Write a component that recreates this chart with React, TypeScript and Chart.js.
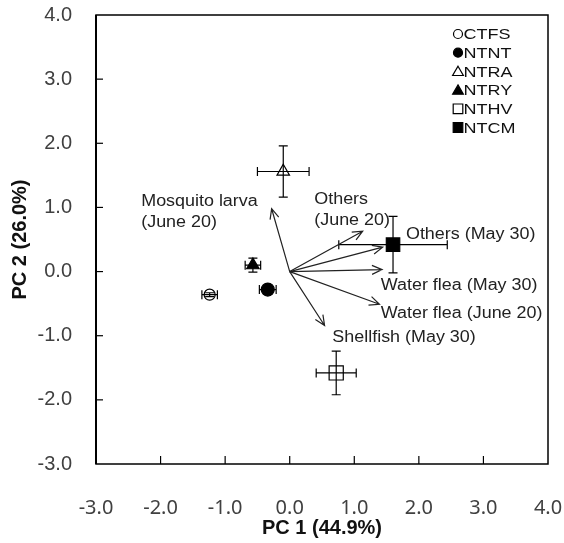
import React, { useEffect, useRef } from "react";
import { Chart, registerables } from "chart.js";

Chart.register(...registerables);

// ---- Data ----
const groups = ["CTFS", "NTNT", "NTRA", "NTRY", "NTHV", "NTCM"];
const pc1 = [-1.24, -0.34, -0.1, -0.57, 0.72, 1.6];
const pc2 = [-0.36, -0.28, 1.56, 0.1, -1.58, 0.42];
const pc1Err = [0.12, 0.13, 0.4, 0.12, 0.31, 0.84];
const pc2Err = [0.03, 0.05, 0.4, 0.11, 0.34, 0.44];
const markerStyle = ["circle", "circle", "triangle", "triangle", "rect", "rect"];
const markerFilled = [false, true, false, true, false, true];

const loadingNames = [
  ["Mosquito larva", "(June 20)"],
  ["Others", "(June 20)"],
  ["Others (May 30)"],
  ["Water flea (May 30)"],
  ["Water flea (June 20)"],
  ["Shellfish (May 30)"],
];
const loadingX = [-0.28, 1.13, 1.44, 1.43, 1.39, 0.54];
const loadingY = [0.98, 0.63, 0.38, 0.03, -0.51, -0.84];
const labelAnchorX = [-2.3, 0.38, 1.8, 1.41, 1.41, 0.66];
const labelAnchorY = [1.09, 1.12, 0.58, -0.22, -0.66, -1.03];

const axisMin = -3;
const axisMax = 4;
const xTitle = "PC 1 (44.9%)";
const yTitle = "PC 2 (26.0%)";

const SANS = "'Liberation Sans', Arial, sans-serif";

function stretchText(ctx: CanvasRenderingContext2D, text: string, x: number, y: number, sx: number) {
  ctx.save();
  ctx.translate(x, y);
  ctx.scale(sx, 1);
  ctx.fillText(text, 0, 0);
  ctx.restore();
}

function drawMarker(ctx: CanvasRenderingContext2D, style: string, filled: boolean, x: number, y: number, size: number) {
  ctx.save();
  ctx.beginPath();
  if (style === "circle") {
    ctx.arc(x, y, size, 0, Math.PI * 2);
  } else if (style === "triangle") {
    ctx.moveTo(x, y - size);
    ctx.lineTo(x + size * 0.866, y + size * 0.5);
    ctx.lineTo(x - size * 0.866, y + size * 0.5);
    ctx.closePath();
  } else {
    ctx.rect(x - size, y - size, size * 2, size * 2);
  }
  ctx.fillStyle = filled ? "#000" : "#fff";
  ctx.fill();
  ctx.lineWidth = 1.2;
  ctx.strokeStyle = "#000";
  ctx.stroke();
  ctx.restore();
}

const framePlugin = {
  id: "frameTicks",
  beforeDatasetsDraw(chart: any) {
    const { ctx, chartArea: a, scales } = chart;
    ctx.save();
    ctx.strokeStyle = "#000";
    ctx.lineWidth = 1.2;
    for (let v = axisMin + 1; v < axisMax; v++) {
      const px = scales.x.getPixelForValue(v);
      ctx.beginPath();
      ctx.moveTo(px, a.bottom);
      ctx.lineTo(px, a.bottom - 8);
      ctx.stroke();
      const py = scales.y.getPixelForValue(v);
      ctx.beginPath();
      ctx.moveTo(a.left, py);
      ctx.lineTo(a.left + 7, py);
      ctx.stroke();
    }
    ctx.lineWidth = 1.5;
    ctx.strokeRect(a.left, a.top, a.right - a.left, a.bottom - a.top);
    ctx.beginPath();
    ctx.lineWidth = 2;
    ctx.moveTo(a.left, a.top);
    ctx.lineTo(a.left, a.bottom);
    ctx.stroke();
    ctx.restore();
  },
};

const overlayPlugin = {
  id: "overlay",
  afterDatasetsDraw(chart: any) {
    const { ctx, chartArea: a, scales } = chart;
    const xs = scales.x;
    const ys = scales.y;
    ctx.save();
    // error bars
    ctx.strokeStyle = "#000";
    ctx.lineWidth = 1.2;
    const cap = 4.5;
    for (let i = 0; i < groups.length; i++) {
      const cx = xs.getPixelForValue(pc1[i]);
      const cy = ys.getPixelForValue(pc2[i]);
      const x0 = xs.getPixelForValue(pc1[i] - pc1Err[i]);
      const x1 = xs.getPixelForValue(pc1[i] + pc1Err[i]);
      const y0 = ys.getPixelForValue(pc2[i] - pc2Err[i]);
      const y1 = ys.getPixelForValue(pc2[i] + pc2Err[i]);
      ctx.beginPath();
      ctx.moveTo(x0, cy); ctx.lineTo(x1, cy);
      ctx.moveTo(x0, cy - cap); ctx.lineTo(x0, cy + cap);
      ctx.moveTo(x1, cy - cap); ctx.lineTo(x1, cy + cap);
      ctx.moveTo(cx, y0); ctx.lineTo(cx, y1);
      ctx.moveTo(cx - cap, y0); ctx.lineTo(cx + cap, y0);
      ctx.moveTo(cx - cap, y1); ctx.lineTo(cx + cap, y1);
      ctx.stroke();
    }
    // arrows
    const ox = xs.getPixelForValue(0);
    const oy = ys.getPixelForValue(0);
    ctx.strokeStyle = "#222";
    ctx.lineWidth = 1.2;
    for (let i = 0; i < loadingNames.length; i++) {
      const tx = xs.getPixelForValue(loadingX[i]);
      const ty = ys.getPixelForValue(loadingY[i]);
      const ang = Math.atan2(ty - oy, tx - ox);
      const hl = 11;
      const ha = 0.42;
      ctx.beginPath();
      ctx.moveTo(ox, oy);
      ctx.lineTo(tx, ty);
      ctx.moveTo(tx - hl * Math.cos(ang - ha), ty - hl * Math.sin(ang - ha));
      ctx.lineTo(tx, ty);
      ctx.lineTo(tx - hl * Math.cos(ang + ha), ty - hl * Math.sin(ang + ha));
      ctx.stroke();
    }
    // labels
    ctx.fillStyle = "#222";
    ctx.font = `16px ${SANS}`;
    ctx.textAlign = "left";
    ctx.textBaseline = "middle";
    for (let i = 0; i < loadingNames.length; i++) {
      const lx = xs.getPixelForValue(labelAnchorX[i]);
      const ly = ys.getPixelForValue(labelAnchorY[i]);
      loadingNames[i].forEach((line, k) => stretchText(ctx, line, lx, ly + k * 20.5, 1.12));
    }
    // legend
    const lgX = a.right - 90;
    const lgY = a.top + 19;
    const rowH = 18.7;
    ctx.font = `15px ${SANS}`;
    ctx.fillStyle = "#111";
    for (let i = 0; i < groups.length; i++) {
      const y = lgY + i * rowH;
      const st = markerStyle[i];
      const size = st === "circle" ? 4.5 : st === "triangle" ? 6.2 : 4.8;
      drawMarker(ctx, st, markerFilled[i], lgX, st === "triangle" ? y + 1 : y, size);
      stretchText(ctx, groups[i], lgX + 5.5, y + 1, 1.2);
    }
    ctx.restore();
  },
};

export default function App() {
  const ref = useRef<HTMLCanvasElement | null>(null);
  useEffect(() => {
    if (!ref.current) return;
    const radii = [5.5, 6.5, 7.2, 7.2, 10, 9.5];
    const chart = new Chart(ref.current, {
      type: "scatter",
      data: {
        datasets: groups.map((g, i) => ({
          label: g,
          data: [{ x: pc1[i], y: pc2[i] }],
          pointStyle: markerStyle[i] as any,
          pointRadius: radii[i],
          pointHoverRadius: radii[i],
          pointBackgroundColor: markerFilled[i] ? "#000" : "#fff",
          pointBorderColor: "#000",
          pointBorderWidth: 1.2,
        })),
      },
      options: {
        animation: false,
        responsive: false,
        devicePixelRatio: 1,
        layout: { padding: { top: 15, right: 16, left: 0, bottom: 0 }, autoPadding: false },
        plugins: { legend: { display: false }, tooltip: { enabled: false } },
        scales: {
          x: {
            type: "linear",
            min: axisMin,
            max: axisMax,
            grid: { display: false, drawTicks: false },
            border: { display: false },
            afterFit: (s: any) => {
              s.height = 79;
              s.paddingLeft = 0;
              s.paddingRight = 0;
            },
            ticks: {
              stepSize: 1,
              padding: 32,
              color: "#404040",
              font: { family: "'Noto Sans', sans-serif", size: 20 },
              callback: (v: any) => Number(v).toFixed(1),
            },
            title: {
              display: true,
              text: xTitle,
              color: "#111",
              font: { family: SANS, size: 20, weight: "bold" },
              padding: { top: 0, bottom: 3 },
            },
          },
          y: {
            type: "linear",
            min: axisMin,
            max: axisMax,
            grid: { display: false, drawTicks: false },
            border: { display: false },
            afterFit: (s: any) => {
              s.width = 96;
              s.paddingTop = 0;
              s.paddingBottom = 0;
            },
            ticks: {
              stepSize: 1,
              padding: 24,
              color: "#404040",
              font: { family: SANS, size: 20 },
              callback: (v: any) => Number(v).toFixed(1),
            },
            title: {
              display: true,
              text: yTitle,
              color: "#111",
              font: { family: SANS, size: 20, weight: "bold" },
              padding: { top: 8, bottom: 0 },
            },
          },
        },
      },
      plugins: [framePlugin, overlayPlugin],
    });
    return () => chart.destroy();
  }, []);
  return (
    <div style={{ position: "absolute", left: 0, top: 0, width: 564, height: 543, background: "#fff" }}>
      <canvas ref={ref} width={564} height={543} />
    </div>
  );
}
